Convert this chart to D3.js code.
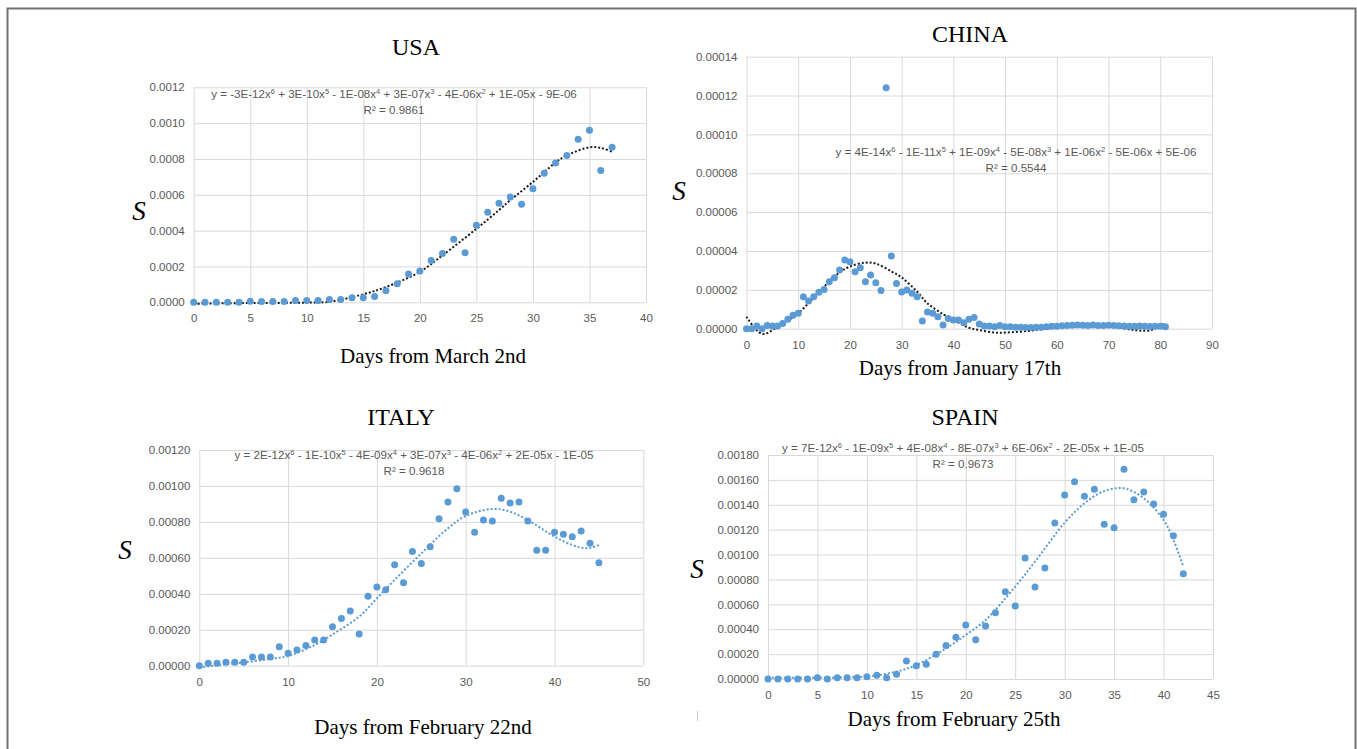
<!DOCTYPE html>
<html>
<head>
<meta charset="utf-8">
<script src="https://cdn.jsdelivr.net/npm/d3@7"></script>
<style>
  body { margin: 0; background: #fff; }
  .tick text { font-family: "Liberation Sans", Arial, sans-serif; font-size: 11.5px; fill: #595959; }
  .grid line { stroke: #d9d9d9; }
  .ttl { font-family: "Liberation Serif", "Times New Roman", serif; fill: #000; }
  .eq { font-family: "Liberation Sans", Arial, sans-serif; font-size: 11.6px; fill: #595959; }
</style>
</head>
<body>
<div id="chart"></div>
<script>
// values, index = day number
const usaValues = [0, 0, 0, 0, 0, 0.000006, 0.000004, 0.000004, 0.000004, 0.00001, 0.00001, 0.00001,
  0.000015, 0.000015, 0.000026, 0.000026, 0.000033, 0.000065, 0.000104, 0.000158, 0.000175, 0.000233,
  0.000272, 0.000352, 0.000277, 0.00043, 0.000502, 0.000553, 0.000588, 0.000547, 0.000634, 0.00072,
  0.000778, 0.00082, 0.00091, 0.00096, 0.000735, 0.000865];
const usaTrendDays = [0, 5, 10, 12, 15, 17, 20, 22, 25, 27, 28, 30, 32, 33, 35, 36, 37];
const usaTrendValues = [-0.000008, -0.000004, -0.000002, 0.000003, 0.000045, 0.000085, 0.00017, 0.000262,
  0.00041, 0.000515, 0.00057, 0.000672, 0.00078, 0.00082, 0.000865, 0.000862, 0.00084];

const chinaValues = [0, 0, 0.0000014, 0, 0.0000017, 0.0000014, 0.0000014, 0.0000027, 0.0000048, 0.0000069,
  0.0000079, 0.0000165, 0.0000142, 0.0000165, 0.0000187, 0.0000202, 0.0000242, 0.0000262, 0.0000302, 0.0000353,
  0.0000345, 0.0000293, 0.0000314, 0.0000242, 0.0000276, 0.0000237, 0.0000196, 0.000124, 0.0000374, 0.0000233,
  0.0000189, 0.0000199, 0.0000182, 0.0000165, 0.0000039, 0.0000086, 0.0000079, 0.0000062, 0.0000019, 0.0000053,
  0.0000045, 0.0000045, 0.0000031, 0.0000048, 0.0000058, 0.0000024, 0.0000014, 0.0000014, 0.000001, 0.0000017,
  0.000001, 0.000001, 0.0000008, 0.0000007, 0.0000006, 0.0000006, 0.0000007, 0.0000008, 0.000001, 0.0000012,
  0.0000013, 0.0000015, 0.0000016, 0.0000018, 0.0000019, 0.0000018, 0.0000017, 0.0000019, 0.0000017, 0.0000016,
  0.0000018, 0.0000016, 0.0000015, 0.0000014, 0.0000013, 0.0000012, 0.0000014, 0.0000012, 0.0000011, 0.0000013,
  0.0000012, 0.000001];
const chinaTrendDays = [0, 3, 6, 10, 13, 15, 18, 20, 23, 25, 28, 30, 33, 35, 38, 40, 43, 45, 48, 50, 55, 60, 65, 70, 75, 78, 81];
const chinaTrendValues = [0.0000062, -0.0000027, 0.000001, 0.000008, 0.000016, 0.0000216, 0.000029, 0.000032,
  0.000034, 0.0000335, 0.0000295, 0.0000264, 0.000019, 0.000013, 0.0000075, 0.0000045, 0.0000005, -0.0000007,
  -0.000002, -0.000002, -0.000001, 0.0000007, 0.0000017, 0.0000014, -0.0000007, -0.0000008, 0.000003];

const italyValues = [0, 0.000013, 0.000013, 0.0000185, 0.0000185, 0.0000185, 0.000048, 0.000048, 0.000048, 0.000106,
  0.0000686, 0.000087, 0.000113, 0.000143, 0.000143, 0.000217, 0.000262, 0.000304, 0.000176, 0.000386,
  0.000438, 0.000423, 0.000562, 0.000462, 0.000636, 0.000568, 0.000662, 0.000818, 0.000911, 0.000985,
  0.000855, 0.000742, 0.000811, 0.000805, 0.000931, 0.000905, 0.000911, 0.000805, 0.000642, 0.000642,
  0.000742, 0.000731, 0.000718, 0.000749, 0.000681, 0.000573];
const italyTrendDays = [0, 3, 5, 8, 10, 13, 15, 18, 20, 22, 25, 28, 30, 33, 35, 37, 40, 42, 43, 44, 45];
const italyTrendValues = [-0.00001, 0.000008, 0.0000185, 0.000038, 0.000054, 0.000115, 0.000174, 0.000273,
  0.000375, 0.000477, 0.000625, 0.000764, 0.000833, 0.000872, 0.000857, 0.00081, 0.000718, 0.000671,
  0.000657, 0.000655, 0.000671];

const spainValues = [0, 0, 0, 0, 0, 0.0000107, 0, 0.0000107, 0.0000107, 0.0000107,
  0.0000188, 0.0000295, 0.0000107, 0.0000375, 0.000145, 0.000107, 0.000118, 0.000198, 0.00027, 0.000335,
  0.000434, 0.000316, 0.000426, 0.000533, 0.000702, 0.000587, 0.000972, 0.000739, 0.000892, 0.001254,
  0.001479, 0.001586, 0.001468, 0.001524, 0.001243, 0.001216, 0.001685, 0.001441, 0.001503, 0.001406,
  0.001323, 0.001152, 0.000846];
const spainTrendDays = [0, 5, 10, 13, 15, 18, 20, 22, 25, 27, 30, 32, 34, 36, 38, 40, 41, 42];
const spainTrendValues = [0.00001, 0.00001, 0.00002, 0.000059, 0.000112, 0.000246, 0.000354, 0.000474,
  0.000742, 0.000943, 0.001256, 0.001412, 0.00151, 0.001532, 0.001452, 0.001278, 0.001117, 0.000903];

const usaXTicks = [0, 5, 10, 15, 20, 25, 30, 35, 40];
const chinaXTicks = [0, 10, 20, 30, 40, 50, 60, 70, 80, 90];
const italyXTicks = [0, 10, 20, 30, 40, 50];
const spainXTicks = [0, 5, 10, 15, 20, 25, 30, 35, 40, 45];
const usaYTicks = [0, 0.0002, 0.0004, 0.0006, 0.0008, 0.001, 0.0012];
const chinaYTicks = [0, 0.00002, 0.00004, 0.00006, 0.00008, 0.0001, 0.00012, 0.00014];
const italyYTicks = [0, 0.0002, 0.0004, 0.0006, 0.0008, 0.001, 0.0012];
const spainYTicks = [0, 0.0002, 0.0004, 0.0006, 0.0008, 0.001, 0.0012, 0.0014, 0.0016, 0.0018];

const W = 1357, H = 749;
const svg = d3.select('#chart').append('svg').attr('width', W).attr('height', H);

// outer frame
svg.append('rect').attr('x', 7.5).attr('y', 8.5).attr('width', 1348).attr('height', 760)
  .attr('fill', 'none').attr('stroke', '#707070').attr('stroke-width', 2);
svg.append('line').attr('x1', 697.5).attr('x2', 697.5).attr('y1', 711).attr('y2', 721)
  .attr('stroke', '#c8c8c8');

function supText(sel, s) {
  // "x^6" markers -> superscripts, next run drops back to the baseline
  let back = 0;
  s.split(/(\^\d)/).forEach(function (part) {
    if (!part) return;
    if (part.startsWith('^')) {
      sel.append('tspan').attr('dy', -4).attr('font-size', '7.5px').text(part.slice(1));
      back = 4;
    } else {
      sel.append('tspan').attr('dy', back).text(part);
      back = 0;
    }
  });
}

function drawPanel(p) {
  const x = d3.scaleLinear().domain([p.xTicks[0], p.xTicks[p.xTicks.length - 1]]).range([p.left, p.right]);
  const y = d3.scaleLinear().domain([p.yTicks[0], p.yTicks[p.yTicks.length - 1]]).range([p.bottom, p.top]);
  const g = svg.append('g');

  g.append('g').attr('class', 'grid').attr('transform', `translate(0,${p.bottom})`)
    .call(d3.axisBottom(x).tickValues(p.xTicks).tickSize(-(p.bottom - p.top)).tickFormat(''))
    .call(s => s.select('.domain').remove());
  g.append('g').attr('class', 'grid').attr('transform', `translate(${p.left},0)`)
    .call(d3.axisLeft(y).tickValues(p.yTicks).tickSize(-(p.right - p.left)).tickFormat(''))
    .call(s => s.select('.domain').remove());

  g.append('g').attr('transform', `translate(0,${p.bottom})`)
    .call(d3.axisBottom(x).tickValues(p.xTicks).tickSize(0).tickPadding(12).tickFormat(d3.format('d')))
    .call(s => s.select('.domain').remove());
  g.append('g').attr('transform', `translate(${p.left},0)`)
    .call(d3.axisLeft(y).tickValues(p.yTicks).tickSize(0).tickPadding(9).tickFormat(d3.format(p.yFmt)))
    .call(s => s.select('.domain').remove());

  const line = d3.line()
    .x((d, i) => x(p.trendDays[i]))
    .y(d => y(d))
    .curve(d3.curveCatmullRom);
  g.append('path').datum(p.trendValues).attr('d', line)
    .attr('fill', 'none').attr('stroke', p.trendColor).attr('stroke-width', 2)
    .attr('stroke-dasharray', '2,2');

  g.selectAll('.dot').data(p.values).enter().append('circle')
    .attr('cx', (d, i) => x(i))
    .attr('cy', d => y(d))
    .attr('r', 3.5)
    .attr('fill', '#5b9bd5');

  g.append('text').attr('class', 'ttl').attr('x', p.titleX).attr('y', p.titleY)
    .attr('text-anchor', 'middle').attr('font-size', '24px').text(p.title);
  g.append('text').attr('class', 'ttl').attr('x', p.xTitleX).attr('y', p.xTitleY)
    .attr('text-anchor', 'middle').attr('font-size', '21px').text(p.xTitle);
  g.append('text').attr('class', 'ttl').attr('x', p.sX).attr('y', p.sY)
    .attr('text-anchor', 'middle').attr('font-size', '27px').attr('font-style', 'italic').text('S');

  const eq = g.append('text').attr('class', 'eq').attr('x', p.eqX).attr('y', p.eqY)
    .attr('text-anchor', 'middle');
  supText(eq, p.eq);
  g.append('text').attr('class', 'eq').attr('x', p.eqX).attr('y', p.eqY + 16)
    .attr('text-anchor', 'middle').text(p.r2);
}

drawPanel({
  left: 193.7, right: 646, top: 87.3, bottom: 302.3,
  xTicks: usaXTicks, yTicks: usaYTicks, yFmt: '.4f',
  values: usaValues, trendDays: usaTrendDays, trendValues: usaTrendValues, trendColor: '#1a1a1a',
  title: 'USA', titleX: 416, titleY: 55,
  xTitle: 'Days from March 2nd', xTitleX: 433, xTitleY: 363,
  sX: 139, sY: 220,
  eq: 'y = -3E-12x^6 + 3E-10x^5 - 1E-08x^4 + 3E-07x^3 - 4E-06x^2 + 1E-05x - 9E-06',
  r2: 'R² = 0.9861', eqX: 394, eqY: 98
});

drawPanel({
  left: 746.5, right: 1212, top: 56.7, bottom: 328.7,
  xTicks: chinaXTicks, yTicks: chinaYTicks, yFmt: '.5f',
  values: chinaValues, trendDays: chinaTrendDays, trendValues: chinaTrendValues, trendColor: '#1a1a1a',
  title: 'CHINA', titleX: 970, titleY: 42,
  xTitle: 'Days from January 17th', xTitleX: 960, xTitleY: 375,
  sX: 679, sY: 200,
  eq: 'y = 4E-14x^6 - 1E-11x^5 + 1E-09x^4 - 5E-08x^3 + 1E-06x^2 - 5E-06x + 5E-06',
  r2: 'R² = 0.5544', eqX: 1016, eqY: 156
});

drawPanel({
  left: 199.3, right: 643.3, top: 450, bottom: 665.7,
  xTicks: italyXTicks, yTicks: italyYTicks, yFmt: '.5f',
  values: italyValues, trendDays: italyTrendDays, trendValues: italyTrendValues, trendColor: '#5b9bd5',
  title: 'ITALY', titleX: 401, titleY: 425,
  xTitle: 'Days from February 22nd', xTitleX: 423, xTitleY: 734,
  sX: 125, sY: 559,
  eq: 'y = 2E-12x^6 - 1E-10x^5 - 4E-09x^4 + 3E-07x^3 - 4E-06x^2 + 2E-05x - 1E-05',
  r2: 'R² = 0.9618', eqX: 414, eqY: 459
});

drawPanel({
  left: 768, right: 1213, top: 455, bottom: 679,
  xTicks: spainXTicks, yTicks: spainYTicks, yFmt: '.5f',
  values: spainValues, trendDays: spainTrendDays, trendValues: spainTrendValues, trendColor: '#5b9bd5',
  title: 'SPAIN', titleX: 965, titleY: 425,
  xTitle: 'Days from February 25th', xTitleX: 954, xTitleY: 726,
  sX: 697, sY: 578,
  eq: 'y = 7E-12x^6 - 1E-09x^5 + 4E-08x^4 - 8E-07x^3 + 6E-06x^2 - 2E-05x + 1E-05',
  r2: 'R² = 0.9673', eqX: 963, eqY: 452
});
</script>
</body>
</html>
